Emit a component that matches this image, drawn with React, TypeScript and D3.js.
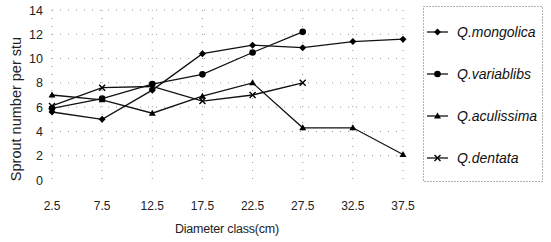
import { useRef, useEffect } from 'react';
import * as d3 from 'd3';

const classes = ['2.5', '7.5', '12.5', '17.5', '22.5', '27.5', '32.5', '37.5'];
const yTicks = [0, 2, 4, 6, 8, 10, 12, 14];

const mongolica = [5.6, 5.0, 7.4, 10.4, 11.1, 10.9, 11.4, 11.6];
const variablibs = [5.9, 6.7, 7.9, 8.7, 10.5, 12.2];
const aculissima = [7.0, 6.6, 5.5, 6.9, 8.0, 4.3, 4.3, 2.1];
const dentata = [6.1, 7.6, 7.7, 6.5, 7.0, 8.0];

const seriesNames = ['Q.mongolica', 'Q.variablibs', 'Q.aculissima', 'Q.dentata'];
const seriesValues = [mongolica, variablibs, aculissima, dentata];
const markerTypes = ['diamond', 'circle', 'triangle', 'cross'];

export default function App() {
  const svgRef = useRef<SVGSVGElement>(null);

  const width = 551,
    height = 242,
    plotLeft = 52,
    plotRight = 403,
    plotTop = 10,
    plotBottom = 180;

  useEffect(() => {
    const svg = d3.select(svgRef.current);
    svg.selectAll('*').remove();

    const x = d3.scalePoint().domain(classes).range([plotLeft, plotRight]);
    const y = d3.scaleLinear().domain([0, 14]).range([plotBottom, plotTop]);

    const font = 'Liberation Sans, Arial, sans-serif';

    // dotted grid, sparse like the scanned original
    const grid = svg.append('g').attr('stroke', '#999').attr('stroke-width', 1)
      .attr('stroke-dasharray', '1,7');
    grid.selectAll('line.h').data(yTicks.slice(1)).join('line')
      .attr('x1', plotLeft).attr('x2', plotRight)
      .attr('y1', (d) => y(d)).attr('y2', (d) => y(d));
    grid.selectAll('line.v').data(classes).join('line')
      .attr('x1', (d) => x(d)!).attr('x2', (d) => x(d)!)
      .attr('y1', plotTop).attr('y2', plotBottom);

    const drawMarker = (g: any, type: string, cx: number, cy: number) => {
      if (type === 'diamond') {
        g.append('path').attr('d', `M${cx},${cy - 3.5}L${cx + 3.5},${cy}L${cx},${cy + 3.5}L${cx - 3.5},${cy}Z`).attr('fill', '#000');
      } else if (type === 'circle') {
        g.append('circle').attr('cx', cx).attr('cy', cy).attr('r', 3.3).attr('fill', '#000');
      } else if (type === 'triangle') {
        g.append('path').attr('d', `M${cx},${cy - 3.5}L${cx + 3.5},${cy + 2.5}L${cx - 3.5},${cy + 2.5}Z`).attr('fill', '#000');
      } else {
        g.append('path').attr('d', `M${cx - 3},${cy - 3}L${cx + 3},${cy + 3}M${cx - 3},${cy + 3}L${cx + 3},${cy - 3}`)
          .attr('stroke', '#000').attr('stroke-width', 1.4);
      }
    };

    const line = d3.line<number>().x((_, i) => x(classes[i])!).y((d) => y(d));

    seriesValues.forEach((vals, si) => {
      const g = svg.append('g');
      g.append('path').attr('d', line(vals)).attr('fill', 'none')
        .attr('stroke', '#111').attr('stroke-width', 1.3);
      vals.forEach((v, i) => drawMarker(g, markerTypes[si], x(classes[i])!, y(v)));
    });

    // y tick labels
    svg.append('g').selectAll('text').data(yTicks).join('text')
      .attr('x', 43).attr('y', (d) => y(d) + 4.5)
      .attr('text-anchor', 'end').attr('font-family', font).attr('font-size', 12.5)
      .attr('fill', '#222').text((d) => d);

    // x tick labels
    svg.append('g').selectAll('text').data(classes).join('text')
      .attr('x', (d) => x(d)!).attr('y', 210)
      .attr('text-anchor', 'middle').attr('font-family', font).attr('font-size', 12)
      .attr('fill', '#222').text((d) => d);

    svg.append('text').attr('x', 227).attr('y', 233).attr('text-anchor', 'middle')
      .attr('font-family', font).attr('font-size', 12.5).attr('fill', '#222')
      .attr('letter-spacing', -0.2).text('Diameter class(cm)');

    svg.append('text').attr('transform', 'translate(21,109) rotate(-90)')
      .attr('text-anchor', 'middle').attr('font-family', font).attr('font-size', 14.5)
      .attr('fill', '#222').text('Sprout number per stu');

    // legend
    svg.append('rect').attr('x', 423.5).attr('y', 6.5).attr('width', 119).attr('height', 175)
      .attr('fill', 'none').attr('stroke', '#666').attr('stroke-dasharray', '1,2');
    seriesNames.forEach((name, i) => {
      const ly = 32 + i * 42;
      const g = svg.append('g');
      g.append('line').attr('x1', 427).attr('x2', 448).attr('y1', ly).attr('y2', ly)
        .attr('stroke', '#111').attr('stroke-width', 1.3);
      drawMarker(g, markerTypes[i], 437.5, ly);
      g.append('text').attr('x', 457).attr('y', ly + 5).attr('font-family', font)
        .attr('font-size', 14).attr('font-style', 'italic').attr('fill', '#111').text(name);
    });
  }, []);

  return (
    <svg
      ref={svgRef}
      width={width}
      height={height}
      style={{ position: 'absolute', left: 0, top: 0, background: '#fff' }}
    />
  );
}
